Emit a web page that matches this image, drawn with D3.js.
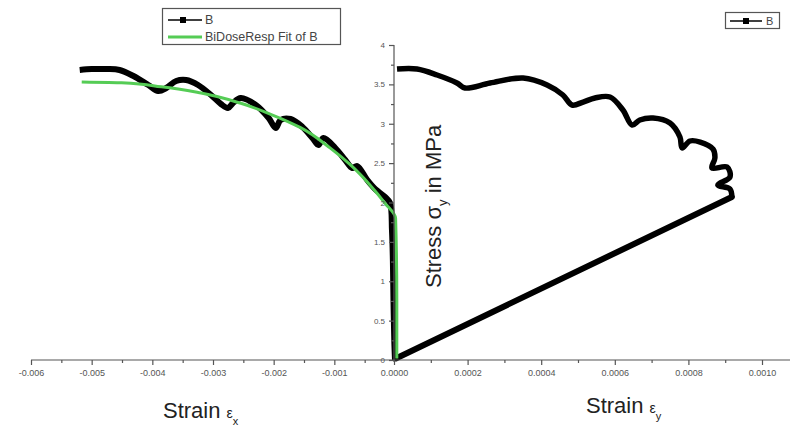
<!DOCTYPE html>
<html><head><meta charset="utf-8">
<script src="https://cdn.jsdelivr.net/npm/d3@7"></script>
<style>body{margin:0;background:#fff}svg{display:block}</style>
</head><body>
<svg id="c" width="790" height="433"></svg>
<script>
// ---- data ----
// left panel: strain eps_x (negative) vs stress
const leftStrain = [-0.005197,-0.005000,-0.004754,-0.004541,-0.004311,-0.004066,-0.003902,-0.003770,-0.003607,-0.003443,-0.003246,-0.003033,-0.002869,-0.002754,-0.002672,-0.002541,-0.002295,-0.002082,-0.001967,-0.001885,-0.001721,-0.001525,-0.001361,-0.001262,-0.001180,-0.000984,-0.000820,-0.000705,-0.000623,-0.000459,-0.000328,-0.000164,-0.000082,-0.000050,-0.000035,-0.000025,-0.000012,0];
const leftStress = [3.683,3.695,3.695,3.683,3.606,3.492,3.416,3.454,3.543,3.556,3.492,3.365,3.251,3.200,3.263,3.327,3.238,3.073,2.946,3.048,3.060,2.959,2.819,2.730,2.819,2.692,2.540,2.438,2.463,2.286,2.171,2.070,1.994,1.651,1.270,0.762,0.254,0];
// BiDoseResp fit of B
const fitStrain = [-0.005164,-0.004508,-0.003852,-0.003197,-0.002541,-0.002049,-0.001557,-0.001066,-0.000738,-0.000410,-0.000164,0.000010,0.000030,0.000030];
const fitStress = [3.53,3.52,3.47,3.39,3.26,3.12,2.95,2.69,2.48,2.22,1.99,1.80,0.76,0.02];
// right panel: strain eps_y vs stress (first point = origin of the loading path)
const rightStrain = [0.000005,0.000918,0.000913,0.000880,0.000913,0.000905,0.000864,0.000872,0.000867,0.000832,0.000804,0.000783,0.000777,0.000750,0.000704,0.000668,0.000647,0.000622,0.000587,0.000546,0.000514,0.000484,0.000459,0.000416,0.000351,0.000261,0.000193,0.000171,0.000117,0.0000625,0.0000082];
const rightStress = [0.02,2.070,2.171,2.222,2.324,2.451,2.438,2.565,2.679,2.768,2.781,2.692,2.832,3.010,3.073,3.048,2.984,3.175,3.340,3.327,3.276,3.238,3.365,3.492,3.581,3.517,3.454,3.517,3.619,3.695,3.695];
// ticks
const leftTicks = [-0.006,-0.005,-0.004,-0.003,-0.002,-0.001];
const leftTickLabels = ["-0.006","-0.005","-0.004","-0.003","-0.002","-0.001"];
const rightTicks = [0,0.0002,0.0004,0.0006,0.0008,0.0010];
const rightTickLabels = ["0.0000","0.0002","0.0004","0.0006","0.0008","0.0010"];
const yTicks = [0,0.5,1,1.5,2,2.5,3,3.5,4];
const yTickLabels = ["0","0.5","1","1.5","2","2.5","3","3.5","4"];

// ---- scales ----
const svg = d3.select("#c");
const FONT = "Liberation Sans, Arial, sans-serif";
const xL = d3.scaleLinear().domain([-0.006, 0]).range([31, 395]);
const xR = d3.scaleLinear().domain([0, 0.001]).range([394, 762]);
const y = d3.scaleLinear().domain([0, 4]).range([360, 45]);
const axisCol = "#555";

// ---- curves (drawn first; labels on top) ----
const lineL = d3.line().x(d=>xL(d[0])).y(d=>y(d[1])).curve(d3.curveCatmullRom.alpha(0.5));
const lineR = d3.line().x(d=>xR(d[0])).y(d=>y(d[1])).curve(d3.curveCatmullRom.alpha(0.5));
const lineRstraight = d3.line().x(d=>xR(d[0])).y(d=>y(d[1]));
const rightPts = d3.zip(rightStrain, rightStress);
svg.append("path").datum(d3.zip(leftStrain, leftStress)).attr("d", lineL)
  .attr("fill","none").attr("stroke","#000").attr("stroke-width",6).attr("stroke-linejoin","round");
// straight loading path
svg.append("path").datum(rightPts.slice(0,2)).attr("d", lineRstraight)
  .attr("fill","none").attr("stroke","#000").attr("stroke-width",6).attr("stroke-linecap","round");
// unloading wiggle path
svg.append("path").datum(rightPts.slice(1)).attr("d", lineR)
  .attr("fill","none").attr("stroke","#000").attr("stroke-width",5.5).attr("stroke-linejoin","round");
svg.append("path").datum(d3.zip(fitStrain, fitStress)).attr("d", d3.line().x(d=>xL(d[0])).y(d=>y(d[1])).curve(d3.curveMonotoneY))
  .attr("fill","none").attr("stroke","#55cc55").attr("stroke-width",3);

// x axis line
svg.append("line").attr("x1", 31).attr("x2", 790).attr("y1", 360).attr("y2", 360)
  .attr("stroke", axisCol).attr("stroke-width", 1.2);

// left axis
const gL = svg.append("g").attr("transform", "translate(0,360)")
  .call(d3.axisBottom(xL).tickValues(leftTicks).tickFormat((d,i)=>leftTickLabels[i]).tickSize(5).tickPadding(5));
const gLm = svg.append("g").attr("transform", "translate(0,360)")
  .call(d3.axisBottom(xL).tickValues([-0.0055,-0.0045,-0.0035,-0.0025,-0.0015,-0.0005]).tickFormat("").tickSize(3));
// right axis
const gR = svg.append("g").attr("transform", "translate(0,360)")
  .call(d3.axisBottom(xR).tickValues(rightTicks).tickFormat((d,i)=>rightTickLabels[i]).tickSize(5).tickPadding(5));
const gRm = svg.append("g").attr("transform", "translate(0,360)")
  .call(d3.axisBottom(xR).tickValues([0.0001,0.0003,0.0005,0.0007,0.0009]).tickFormat("").tickSize(3));
// y axis
const gY = svg.append("g").attr("transform", "translate(394,0)")
  .call(d3.axisLeft(y).tickValues(yTicks).tickFormat((d,i)=>yTickLabels[i]).tickSize(5).tickPadding(4));
const gYm = svg.append("g").attr("transform", "translate(394,0)")
  .call(d3.axisLeft(y).tickValues([0.25,0.75,1.25,1.75,2.25,2.75,3.25,3.75]).tickFormat("").tickSize(3));

[gL,gLm,gR,gRm,gY,gYm].forEach(g=>{
  g.select(".domain").remove();
  g.selectAll("line").attr("stroke", axisCol).attr("stroke-width", 1.2);
  g.selectAll("text").attr("fill", "#555").attr("font-family", FONT);
});
[gL,gR].forEach(g=>g.selectAll("text").attr("font-size", 9));
gY.selectAll("text").attr("font-size", 8);
svg.append("line").attr("x1", 394).attr("x2", 394).attr("y1", 45).attr("y2", 362)
  .attr("stroke", axisCol).attr("stroke-width", 1.2);

// ---- axis titles ----
const t1 = svg.append("text").attr("x", 163).attr("y", 418).attr("font-family", FONT).attr("fill","#222");
t1.append("tspan").attr("font-size", 22).text("Strain ");
t1.append("tspan").attr("font-size", 14).text("ε");
t1.append("tspan").attr("font-size", 11).attr("dy", 7).text("x");
const t2 = svg.append("text").attr("x", 586).attr("y", 413).attr("font-family", FONT).attr("fill","#222");
t2.append("tspan").attr("font-size", 22).text("Strain ");
t2.append("tspan").attr("font-size", 14).text("ε");
t2.append("tspan").attr("font-size", 11).attr("dy", 7).text("y");
const t3 = svg.append("text").attr("transform", "translate(441,288) rotate(-90)").attr("font-family", FONT).attr("fill","#222").attr("font-size", 22);
t3.append("tspan").text("Stress σ");
t3.append("tspan").attr("font-size", 13).attr("dy", 6).text("y");
t3.append("tspan").attr("dy", -6).text(" in MPa");

// ---- legends ----
const lg = svg.append("g");
lg.append("rect").attr("x",162.5).attr("y",8.5).attr("width",178).attr("height",36)
  .attr("fill","#fff").attr("stroke","#555").attr("stroke-width",1.2);
lg.append("line").attr("x1",168).attr("x2",202).attr("y1",20).attr("y2",20).attr("stroke","#000").attr("stroke-width",1.5);
lg.append("rect").attr("x",180).attr("y",17).attr("width",6).attr("height",6).attr("fill","#000");
lg.append("text").attr("x",205).attr("y",24).attr("font-family",FONT).attr("font-size",12.5).attr("fill","#444").text("B");
lg.append("line").attr("x1",168).attr("x2",202).attr("y1",37).attr("y2",37).attr("stroke","#55cc55").attr("stroke-width",3);
lg.append("text").attr("x",205).attr("y",41).attr("font-family",FONT).attr("font-size",12.5).attr("fill","#444").text("BiDoseResp Fit of B");

const lg2 = svg.append("g");
lg2.append("rect").attr("x",725.5).attr("y",12.5).attr("width",54).attr("height",16)
  .attr("fill","#fff").attr("stroke","#555").attr("stroke-width",1.2);
lg2.append("line").attr("x1",730).attr("x2",762).attr("y1",21).attr("y2",21).attr("stroke","#000").attr("stroke-width",1.5);
lg2.append("rect").attr("x",743).attr("y",18).attr("width",6).attr("height",6).attr("fill","#000");
lg2.append("text").attr("x",766).attr("y",25).attr("font-family",FONT).attr("font-size",11).attr("fill","#444").text("B");
</script>
</body></html>
